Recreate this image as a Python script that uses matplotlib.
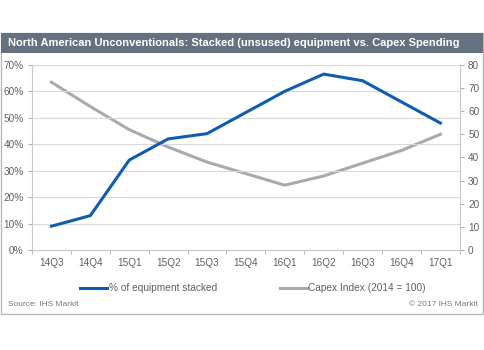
import matplotlib.pyplot as plt
from matplotlib.patches import Rectangle
from matplotlib.lines import Line2D

plt.rcParams['font.family'] = ['Liberation Sans', 'DejaVu Sans']

quarters = ['14Q3', '14Q4', '15Q1', '15Q2', '15Q3', '15Q4',
            '16Q1', '16Q2', '16Q3', '16Q4', '17Q1']
stacked_pct = [9, 13, 34, 42, 44, 52, 60, 66.5, 64, 56, 48]
capex_index = [72.5, 62, 52, 44.5, 38, 33, 28, 32, 37.5, 43, 50]

blue = '#0f5db0'
grey = '#a8aaad'
txt = '#606060'

fig = plt.figure(figsize=(4.85, 3.5), dpi=100)

# outer frame + title bar (behind the axes)
fig.patches.append(Rectangle((0.003, 0.103), 0.992, 0.803, transform=fig.transFigure,
                             facecolor='white', edgecolor='#b5b9be', lw=1.0, zorder=-2))
fig.patches.append(Rectangle((0.003, 0.849), 0.992, 0.057, transform=fig.transFigure,
                             facecolor='#667180', edgecolor='none', zorder=-1))
fig.text(0.017, 0.877, 'North American Unconventionals: Stacked (unsused) equipment vs. Capex Spending',
         color='white', fontsize=8.0, fontweight='bold', va='center', ha='left')

ax = fig.add_axes([0.066, 0.2857, 0.882, 0.529])
ax.set_facecolor('none')
x = range(len(quarters))
ax.plot(x, stacked_pct, color=blue, lw=2.2, zorder=3)
ax.set_ylim(0, 70)
ax.set_yticks(range(0, 71, 10))
ax.set_yticklabels([f'{v}%' for v in range(0, 71, 10)])
ax.set_xlim(-0.5, len(quarters) - 0.5)
ax.set_xticks(x)
ax.set_xticklabels(quarters)
ax.set_xticks([i + 0.5 for i in range(-1, len(quarters))], minor=True)
ax.tick_params(axis='x', which='major', length=0, pad=6, labelsize=7.2, labelcolor=txt)
ax.tick_params(axis='x', which='minor', length=3, color='#b0b0b0')
ax.tick_params(axis='y', length=3, color='#b0b0b0', labelsize=7.2, labelcolor=txt, pad=3)
ax.grid(axis='y', color='#d9d9d9', lw=0.8)
for s in ['top', 'right']:
    ax.spines[s].set_visible(False)
ax.spines['left'].set_color('#c8c8c8')
ax.spines['bottom'].set_color('#c8c8c8')

ax2 = ax.twinx()
ax2.plot(x, capex_index, color=grey, lw=2.2, zorder=2)
ax2.set_ylim(0, 80)
ax2.set_yticks(range(0, 81, 10))
ax2.tick_params(axis='y', length=3, color='#b0b0b0', labelsize=7.2, labelcolor=txt, pad=3)
for s in ['top', 'left', 'bottom']:
    ax2.spines[s].set_visible(False)
ax2.spines['right'].set_color('#c8c8c8')
ax.set_zorder(ax2.get_zorder() + 1)

# legend
fig.add_artist(Line2D([0.165, 0.220], [0.177, 0.177], color=blue, lw=2.2))
fig.text(0.224, 0.177, '% of equipment stacked', fontsize=7.3, color=txt, va='center')
fig.add_artist(Line2D([0.578, 0.632], [0.177, 0.177], color=grey, lw=2.2))
fig.text(0.635, 0.177, 'Capex Index (2014 = 100)', fontsize=7.3, color=txt, va='center')

fig.text(0.017, 0.131, 'Source: IHS Markit', fontsize=6, color='#777777', va='center')
fig.text(0.985, 0.131, '\u00a9 2017 IHS Markit', fontsize=6, color='#777777', va='center', ha='right')

fig.savefig('out.png', dpi=100)
